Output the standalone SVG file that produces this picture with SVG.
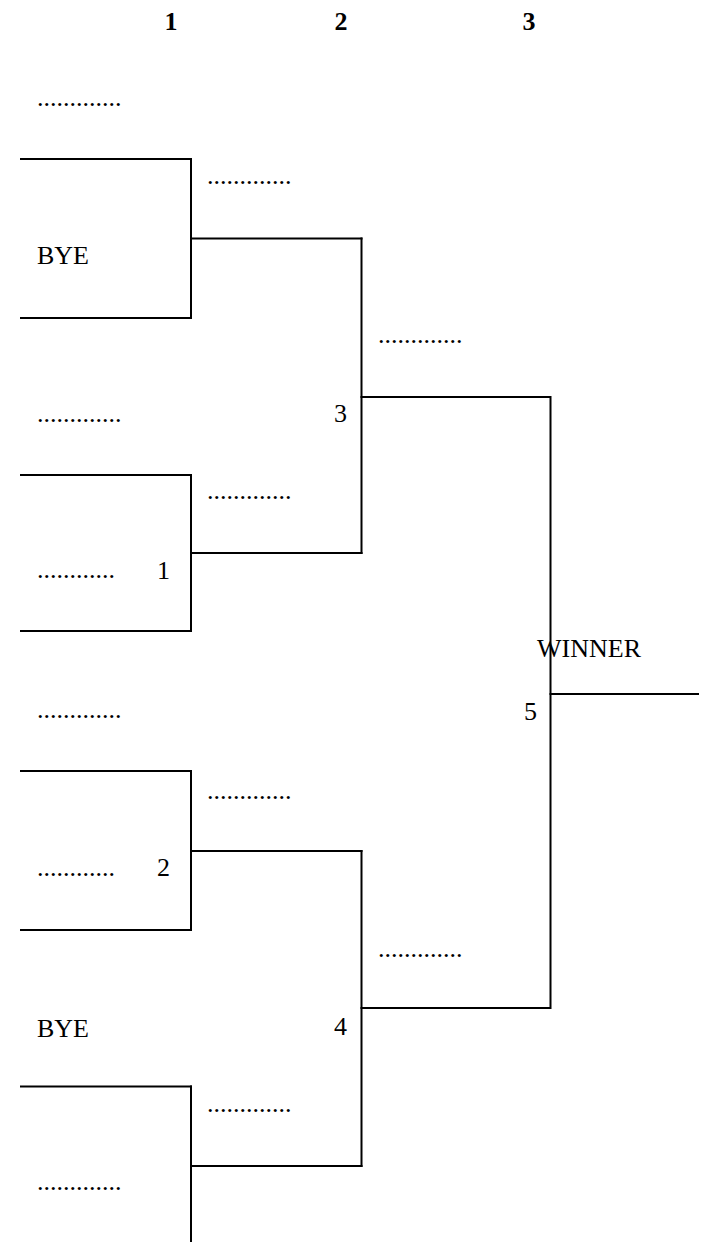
<svg xmlns="http://www.w3.org/2000/svg" width="706" height="1242" viewBox="0 0 706 1242">
<style>
text{font-family:"Liberation Serif","Times New Roman",serif;font-size:26px;fill:#000}
.h{font-weight:bold}
.ln{stroke:#000;stroke-width:2;fill:none;stroke-linecap:square}
</style>
<rect width="706" height="1242" fill="#fff"/>
<g id="headers">
<text class="h" x="171" y="30" text-anchor="middle">1</text>
<text class="h" x="341" y="30" text-anchor="middle">2</text>
<text class="h" x="529" y="30" text-anchor="middle">3</text>
</g>
<g id="connectors">
<polyline class="ln" points="21,159 191,159 191,318 21,318"/>
<line class="ln" x1="191" y1="238.5" x2="361.5" y2="238.5"/>
<polyline class="ln" points="21,475 191,475 191,631 21,631"/>
<line class="ln" x1="191" y1="553" x2="361.5" y2="553"/>
<line class="ln" x1="361.5" y1="238.5" x2="361.5" y2="553"/>
<polyline class="ln" points="361.5,397 550.5,397 550.5,1008 361.5,1008"/>
<line class="ln" x1="550.5" y1="694" x2="698" y2="694"/>
<polyline class="ln" points="21,771 191,771 191,930 21,930"/>
<line class="ln" x1="191" y1="851" x2="361.5" y2="851"/>
<line class="ln" x1="361.5" y1="851" x2="361.5" y2="1166"/>
<line class="ln" x1="21" y1="1086.5" x2="191" y2="1086.5"/>
<line class="ln" x1="191" y1="1086.5" x2="191" y2="1243"/>
<line class="ln" x1="191" y1="1166" x2="361.5" y2="1166"/>
</g>
<g id="round1">
<text x="37" y="106">.............</text>
<text x="37" y="264">BYE</text>
<text x="37" y="422">.............</text>
<text x="37" y="578">............</text>
<text x="157" y="579">1</text>
<text x="37" y="718">.............</text>
<text x="37" y="876">............</text>
<text x="157" y="876">2</text>
<text x="37" y="1037">BYE</text>
<text x="37" y="1190">.............</text>
</g>
<g id="round2">
<text x="207" y="184">.............</text>
<text x="207" y="499">.............</text>
<text x="207" y="799">.............</text>
<text x="207" y="1112">.............</text>
<text x="334" y="422">3</text>
<text x="334" y="1035">4</text>
</g>
<g id="round3">
<text x="378" y="343">.............</text>
<text x="378" y="957">.............</text>
<text x="524" y="720">5</text>
</g>
<g id="winner">
<text x="537" y="657">WINNER</text>
</g>
</svg>
